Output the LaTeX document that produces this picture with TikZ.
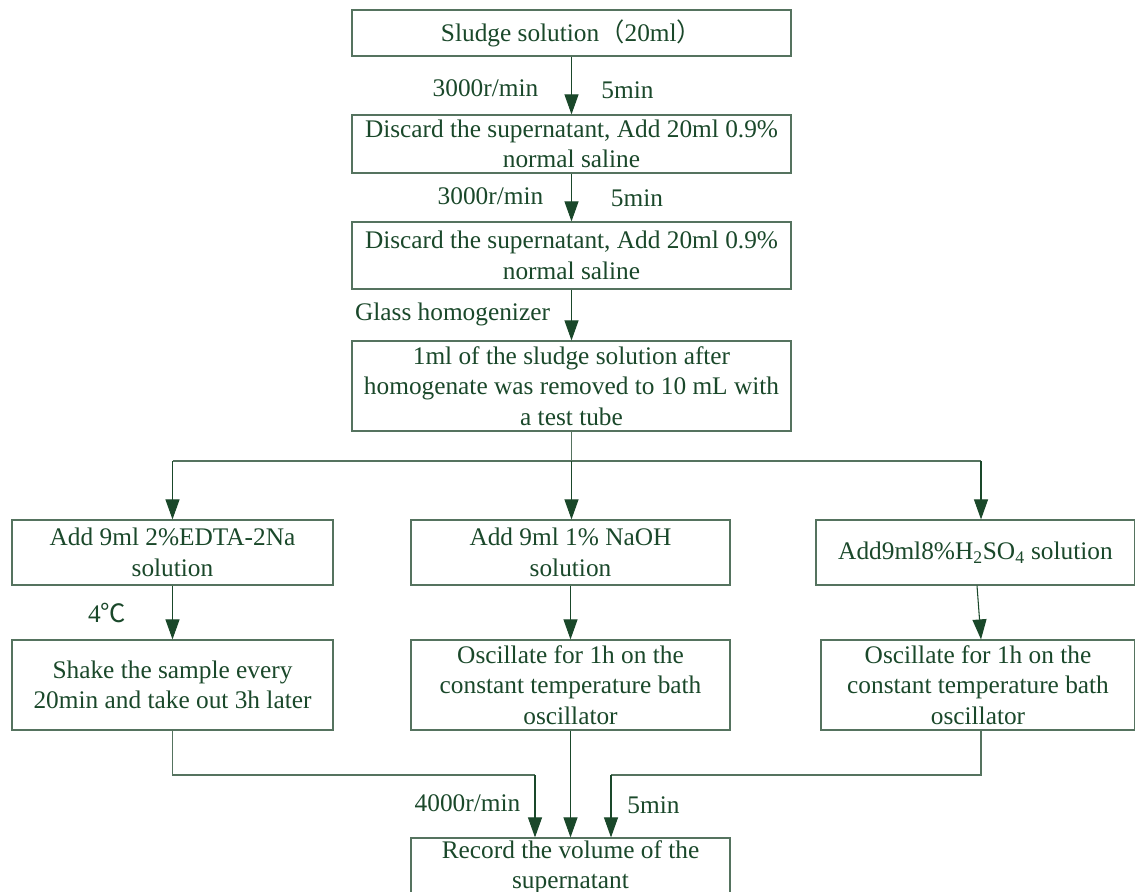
\documentclass[tikz,border=0pt]{standalone}
\usepackage{fontspec}
\setmainfont{Liberation Serif}
\newfontfamily\cjk{Noto Sans CJK SC}
\usetikzlibrary{arrows.meta,calc}
\definecolor{txt}{RGB}{26,72,42}
\definecolor{edgec}{RGB}{85,115,95}
\definecolor{arr}{RGB}{26,72,42}
\begin{document}
\begin{tikzpicture}[x=0.75pt,y=-0.75pt,
 box/.style={draw=edgec, line width=0.9pt, text=txt, align=center, inner sep=0pt, font=\fontsize{19}{22.8}\selectfont},
 lbl/.style={text=txt, font=\fontsize{19}{22.8}\selectfont, inner sep=0pt},
 conn/.style={draw=arr, line width=0.8pt, -{Triangle[length=15pt,width=10.5pt]}},
 plain/.style={draw=edgec, line width=0.8pt}]
\useasboundingbox (0,0) rectangle (1135,892);
\clip (0,0) rectangle (1135,892);
% main column
\node[box, minimum width=439*0.75pt, minimum height=46*0.75pt] (b1) at (571.5,33) {Sludge solution{\cjk （}20ml{\cjk ）}};
\node[box, minimum width=439*0.75pt, minimum height=58*0.75pt] (b2) at (571.5,144) {Discard the supernatant, Add 20ml 0.9\%\\normal saline};
\node[box, minimum width=439*0.75pt, minimum height=67*0.75pt] (b3) at (571.5,255.5) {Discard the supernatant, Add 20ml 0.9\%\\normal saline};
\node[box, minimum width=439*0.75pt, minimum height=90*0.75pt] (b4) at (571.5,386) {1ml of the sludge solution after\\homogenate was removed to 10 mL with\\a test tube};
% second row
\node[box, minimum width=321*0.75pt, minimum height=65*0.75pt] (b5) at (172.5,552.5) {Add 9ml 2\%EDTA-2Na\\solution};
\node[box, minimum width=319*0.75pt, minimum height=65*0.75pt] (b6) at (570.5,552.5) {Add 9ml 1\% NaOH\\solution};
\node[box, minimum width=319*0.75pt, minimum height=65*0.75pt] (b7) at (975.5,552.5) {Add9ml8\%H\textsubscript{2}SO\textsubscript{4} solution};
% third row
\node[box, minimum width=321*0.75pt, minimum height=90*0.75pt] (b8) at (172.5,685) {Shake the sample every\\20min and take out 3h later};
\node[box, minimum width=319*0.75pt, minimum height=90*0.75pt] (b9) at (570.5,685) {Oscillate for 1h on the\\constant temperature bath\\oscillator};
\node[box, minimum width=314*0.75pt, minimum height=90*0.75pt] (b10) at (978,685) {Oscillate for 1h on the\\constant temperature bath\\oscillator};
% final
\node[box, minimum width=319*0.75pt, minimum height=58*0.75pt] (b11) at (570.5,867) {Record the volume of the\\supernatant};
% labels
\node[lbl] (l1) at (485.5,88) {3000r/min};
\node[lbl] (l2) at (627.5,90) {5min};
\node[lbl] (l3) at (490.5,196) {3000r/min};
\node[lbl] (l4) at (637,198) {5min};
\node[lbl] (l5) at (452.5,314) {Glass homogenizer};
\node[lbl] (l6) at (107,613) {4{\cjk ℃}};
\node[lbl] (l7) at (467.5,803) {4000r/min};
\node[lbl] (l8) at (653.5,805) {5min};
% connectors
\draw[conn] (b1) -- (b2);
\draw[conn] (b2) -- (b3);
\draw[conn] (b3) -- (b4);
\coordinate (sp) at (571.5,461);
\coordinate (sl) at (172.5,461);
\coordinate (sr) at (981,461);
\draw[plain] (b4.south) -- (sp);
\draw[plain] (sl) -- (sr);
\draw[conn] (sl) -- (b5.north);
\draw[conn] (sp) -- (sp |- b6.north);
\draw[conn] (sr) -- (sr |- b7.north);
\draw[conn] (b5) -- (b8);
\draw[conn] (b6) -- (b9);
\draw[conn] ($(b7.south)+(1.5,0)$) -- ($(b10.north)+(3,0)$);
\coordinate (jl) at (535,775);
\coordinate (jr) at (611,775);
\draw[plain] (b8.south) |- (jl);
\draw[conn] (jl) -- (jl |- b11.north);
\draw[conn] (b9) -- (b11);
\draw[plain] ($(b10.south)+(3,0)$) |- (jr);
\draw[conn] (jr) -- (jr |- b11.north);
\end{tikzpicture}
\end{document}
